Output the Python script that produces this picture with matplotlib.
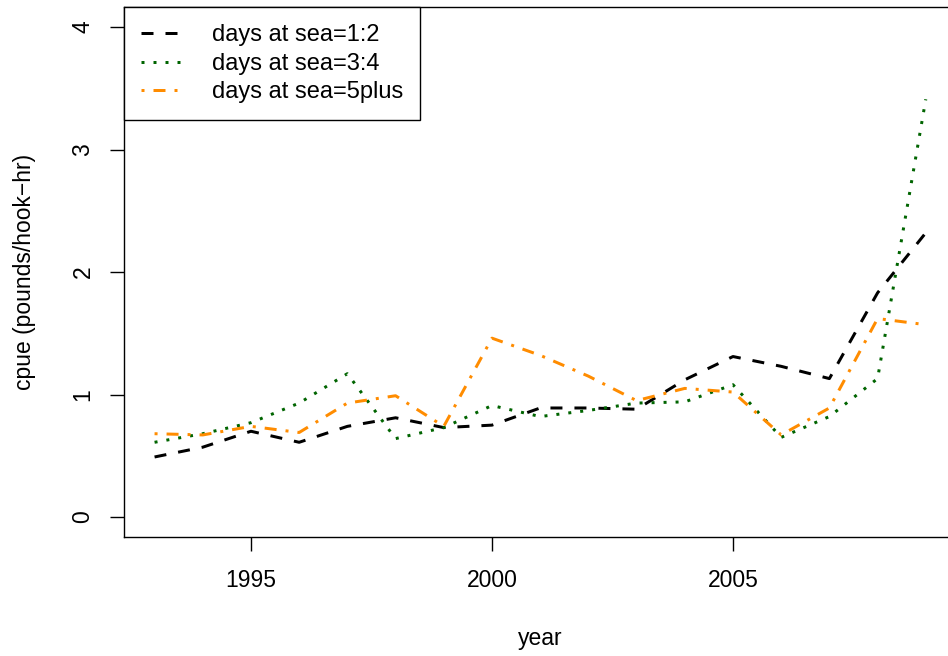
import matplotlib
matplotlib.use("Agg")
import matplotlib.pyplot as plt

# cpue by trip length
years = list(range(1993, 2010))
sea_1_2 = [0.49, 0.57, 0.70, 0.61, 0.74, 0.81, 0.73, 0.75, 0.89, 0.89, 0.88,
           1.12, 1.31, 1.23, 1.13, 1.83, 2.32]
sea_3_4 = [0.61, 0.68, 0.77, 0.93, 1.17, 0.64, 0.73, 0.91, 0.82, 0.87, 0.93,
           0.94, 1.08, 0.65, 0.82, 1.13, 3.41]
sea_5plus = [0.68, 0.67, 0.74, 0.69, 0.93, 0.99, 0.74, 1.46, 1.32, 1.15, 0.95,
             1.05, 1.02, 0.67, 0.89, 1.62, 1.57]
labels = ["days at sea=1:2", "days at sea=3:4", "days at sea=5plus"]
x_ticks = [1995, 2000, 2005]
y_ticks = [0, 1, 2, 3, 4]

plt.rcParams["font.family"] = ["Liberation Sans", "DejaVu Sans"]
plt.rcParams["font.size"] = 16.5

fig = plt.figure(figsize=(9.48, 6.56), dpi=100)
# plot region runs past the right edge of the image, as in the reference
ax = fig.add_axes([0.1305, 0.1820, 0.8786, 0.8067])

lw = 2.16
ax.plot(years, sea_1_2, color="black", lw=lw, linestyle=(0, (4, 4)), label=labels[0])
ax.plot(years, sea_3_4, color="#006400", lw=lw, linestyle=(0, (1, 3)), label=labels[1])
ax.plot(years, sea_5plus, color="#FF8C00", lw=lw, linestyle=(0, (1, 3, 4, 3)), label=labels[2])

ax.set_xlim(1992.36, 2009.64)
ax.set_ylim(-0.16, 4.16)
ax.set_xticks(x_ticks)
ax.set_yticks(y_ticks)
ax.tick_params(direction="out", length=10, width=1.0, pad=11)
ax.tick_params(axis="x", pad=13)
ax.tick_params(axis="y", labelrotation=90)
for lab in ax.get_yticklabels():
    lab.set_va("center")
for s in ax.spines.values():
    s.set_linewidth(1.0)

fig.text(540 / 948, 1 - 639 / 656, "year", ha="center", va="center")
fig.text(25 / 948, 1 - 272 / 656, "cpue (pounds/hook\u2212hr)", rotation=90,
         ha="center", va="center")

leg = ax.legend(loc="upper left", borderaxespad=0, fancybox=False,
                edgecolor="black", framealpha=1, fontsize=17, handlelength=1.65,
                handletextpad=1.35, labelspacing=0.27, borderpad=0.72)
leg.get_frame().set_linewidth(1.0)

fig.savefig("out.png", dpi=100)
